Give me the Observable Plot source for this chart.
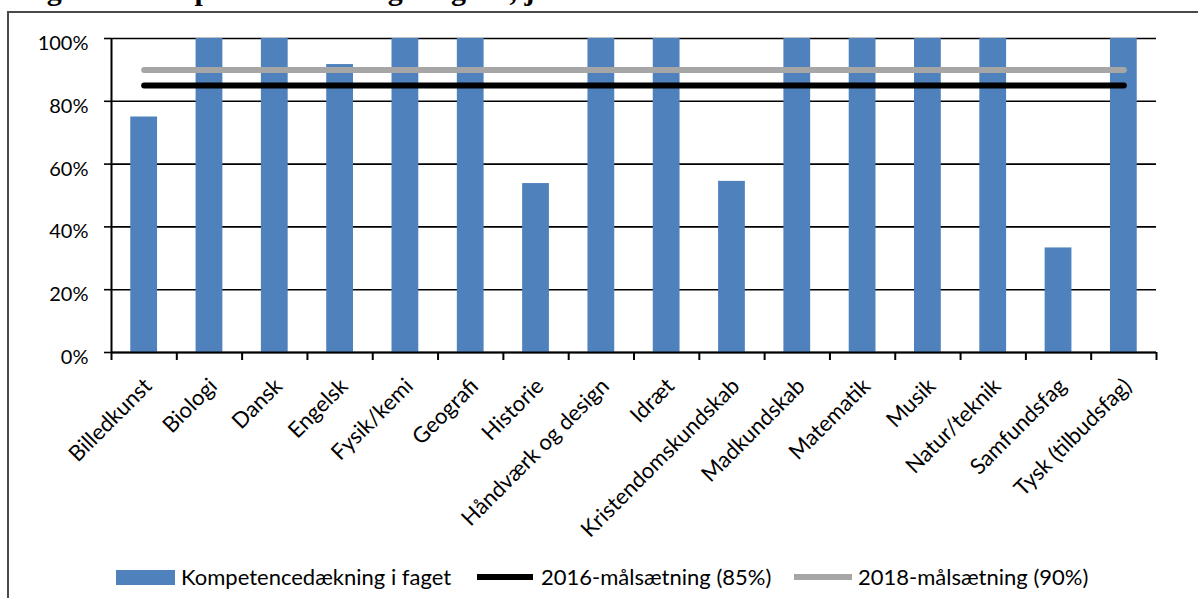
<!DOCTYPE html>
<html>
<head>
<meta charset="utf-8">
<script src="https://cdn.jsdelivr.net/npm/d3@7"></script>
<script src="https://cdn.jsdelivr.net/npm/@observablehq/plot@0.6"></script>
<style>
  html, body { margin: 0; padding: 0; background: #fff; }
  #wrap { position: relative; width: 1198px; height: 598px; overflow: hidden; font-family: Lato, "Open Sans", sans-serif; }
  #title { position: absolute; left: 20px; top: -25px; font: bold 30px/30px "Liberation Serif", "DejaVu Serif", serif; color: #000; white-space: nowrap; }
  #box { position: absolute; left: 7px; top: 11px; width: 1400px; height: 800px; border-left: 2px solid #4a4a4a; border-top: 2px solid #4a4a4a; }
  #chart { position: absolute; left: 0; top: 0; }
  #legend { position: absolute; left: 0; top: 565px; width: 1198px; height: 28px; font-size: 22px; color: #000; }
  .sw { position: absolute; }
  .lt { position: absolute; top: -1px; line-height: 26px; white-space: nowrap; }
</style>
</head>
<body>
<div id="wrap">
  <div id="title">Figur 3: Kompetencedækning i fagene, juni 2016</div>
  <div id="box"></div>
  <div id="chart"></div>
  <div id="legend"></div>
</div>
<script>
const categories = ["Billedkunst", "Biologi", "Dansk", "Engelsk", "Fysik/kemi", "Geografi", "Historie", "Håndværk og design", "Idræt", "Kristendomskundskab", "Madkundskab", "Matematik", "Musik", "Natur/teknik", "Samfundsfag", "Tysk (tilbudsfag)"];
const coverage = [0.75, 1.0, 1.0, 0.917, 1.0, 1.0, 0.538, 1.0, 1.0, 0.545, 1.0, 1.0, 1.0, 1.0, 0.333, 1.0];
const target2016 = 0.85;
const target2018 = 0.90;
const yTicks = [0, 0.2, 0.4, 0.6, 0.8, 1.0];
const seriesNames = ["Kompetencedækning i faget", "2016-målsætning (85%)", "2018-målsætning (90%)"];
const colors = ["#4f81bd", "#000000", "#a6a6a6"];

const data = categories.map((c, i) => ({cat: c, i, v: coverage[i]}));
const barHalf = 0.205;
const font = "Lato, 'Open Sans', sans-serif";

const chart = Plot.plot({
  width: 1198,
  height: 545,
  marginLeft: 111,
  marginRight: 42,
  marginTop: 38,
  marginBottom: 193,
  x: {type: "linear", domain: [0, categories.length]},
  y: {domain: [0, 1]},
  style: {fontFamily: font, fontSize: "20px", color: "#000", background: "transparent"},
  marks: [
    Plot.ruleY(yTicks, {stroke: "#000", strokeWidth: 1.6}),
    Plot.rectY(data, {x1: d => d.i + 0.5 - barHalf, x2: d => d.i + 0.5 + barHalf, y: "v", fill: colors[0]}),
    Plot.lineY(data, {x: d => d.i + 0.5, y: () => target2018, stroke: colors[2], strokeWidth: 6}),
    Plot.lineY(data, {x: d => d.i + 0.5, y: () => target2016, stroke: colors[1], strokeWidth: 6}),
    Plot.ruleY([0], {stroke: "#000", strokeWidth: 2}),
    Plot.ruleX([0], {stroke: "#000", strokeWidth: 2}),
    Plot.axisY({ticks: yTicks, tickFormat: () => "", tickSize: 7, strokeWidth: 1.6, stroke: "#000", label: null}),
    Plot.axisY({ticks: yTicks, tickFormat: d3.format(".0%"), tickSize: 0, tickPadding: 23, fontSize: 20, dy: 5, label: null}),
    Plot.axisX({ticks: d3.range(categories.length + 1), tickFormat: () => "", tickSize: 8, strokeWidth: 2, stroke: "#000", label: null}),
    Plot.axisX({ticks: data.map(d => d.i + 0.5), tickFormat: t => categories[Math.round(t - 0.5)], tickSize: 0, tickPadding: 30, tickRotate: -45, fontSize: 22, dx: 4, label: null})
  ]
});
document.getElementById("chart").appendChild(chart);

const legend = document.getElementById("legend");
const items = [
  {type: "rect", x: 116, w: 59, h: 15, tx: 181},
  {type: "line", x: 477, w: 56, h: 6, tx: 541},
  {type: "line", x: 794, w: 58, h: 6, tx: 858}
];
items.forEach((it, k) => {
  const sw = document.createElement("div");
  sw.className = "sw";
  sw.style.left = it.x + "px";
  sw.style.width = it.w + "px";
  sw.style.height = it.h + "px";
  sw.style.top = (12 - it.h / 2) + "px";
  sw.style.background = colors[k];
  legend.appendChild(sw);
  const t = document.createElement("div");
  t.className = "lt";
  t.style.left = it.tx + "px";
  t.textContent = seriesNames[k];
  legend.appendChild(t);
});
</script>
</body>
</html>
